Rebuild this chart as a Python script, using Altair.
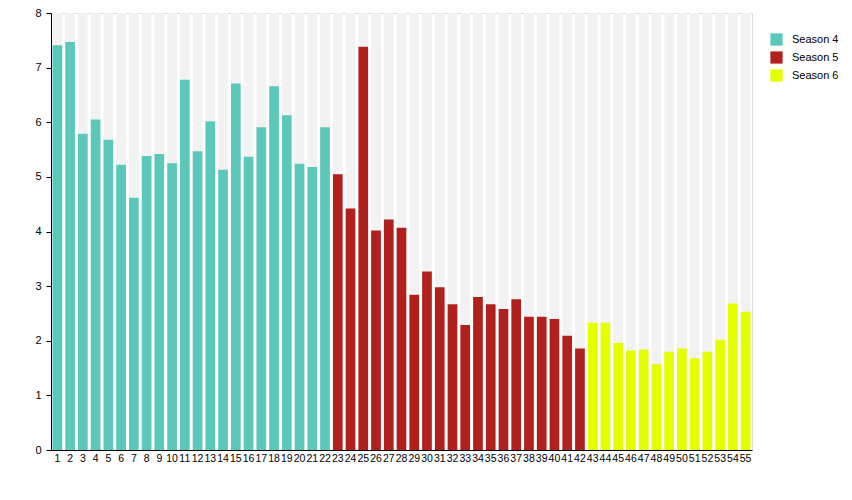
import altair as alt
import pandas as pd

episodes = list(range(1, 56))
ratings = [
    7.41, 7.47, 5.79, 6.05, 5.68, 5.22, 4.62, 5.38, 5.42, 5.25,
    6.78, 5.47, 6.02, 5.13, 6.71, 5.37, 5.91, 6.66, 6.13, 5.24,
    5.18, 5.91,
    5.05, 4.42, 7.38, 4.02, 4.22, 4.07, 2.84, 3.27, 2.98, 2.67,
    2.29, 2.80, 2.67, 2.58, 2.76, 2.44, 2.44, 2.40, 2.09, 1.86,
    2.33, 2.33, 1.96, 1.82, 1.84, 1.57, 1.80, 1.86, 1.68, 1.80,
    2.02, 2.68, 2.53,
]
seasons = ["Season 4"] * 22 + ["Season 5"] * 20 + ["Season 6"] * 13
season_names = ["Season 4", "Season 5", "Season 6"]
season_colors = ["#5bc8b9", "#b0201d", "#e4ff00"]
y_max = 8

df = pd.DataFrame({"episode": episodes, "rating": ratings, "season": seasons})

x_enc = alt.X(
    "episode:O",
    title=None,
    scale=alt.Scale(paddingInner=0.24, paddingOuter=0.12),
    axis=alt.Axis(labelAngle=0, ticks=False, domainColor="#000000",
                  labelPadding=3, labelFontSize=10.5, labelColor="#000000"),
)

bg = alt.Chart(df).mark_bar(color="#f2f2f2").encode(
    x=x_enc,
    y=alt.Y(datum=y_max),
)

bars = alt.Chart(df).mark_bar().encode(
    x=x_enc,
    y=alt.Y(
        "rating:Q",
        title=None,
        scale=alt.Scale(domain=[0, y_max], nice=False),
        axis=alt.Axis(values=list(range(0, 9)), grid=False, domainColor="#000000",
                      tickColor="#000000", tickSize=5, labelPadding=5,
                      labelFontSize=11, labelColor="#000000"),
    ),
    color=alt.Color(
        "season:N",
        scale=alt.Scale(domain=season_names, range=season_colors),
        legend=alt.Legend(title=None, orient="none", legendX=719, legendY=20,
                          symbolType="square", symbolSize=150, symbolStrokeWidth=0,
                          labelFontSize=11, labelColor="#000000", rowPadding=5,
                          symbolOffset=0, labelOffset=9),
    ),
)

chart = alt.layer(bg, bars).properties(
    width=701,
    height=437,
    autosize=alt.AutoSizeParams(type="none"),
    padding={"left": 43, "top": 5, "right": 90, "bottom": 30},
).configure_view(stroke=None).configure(font="Liberation Sans")

chart.save("out.html", embed_options={"renderer": "svg", "actions": False})
